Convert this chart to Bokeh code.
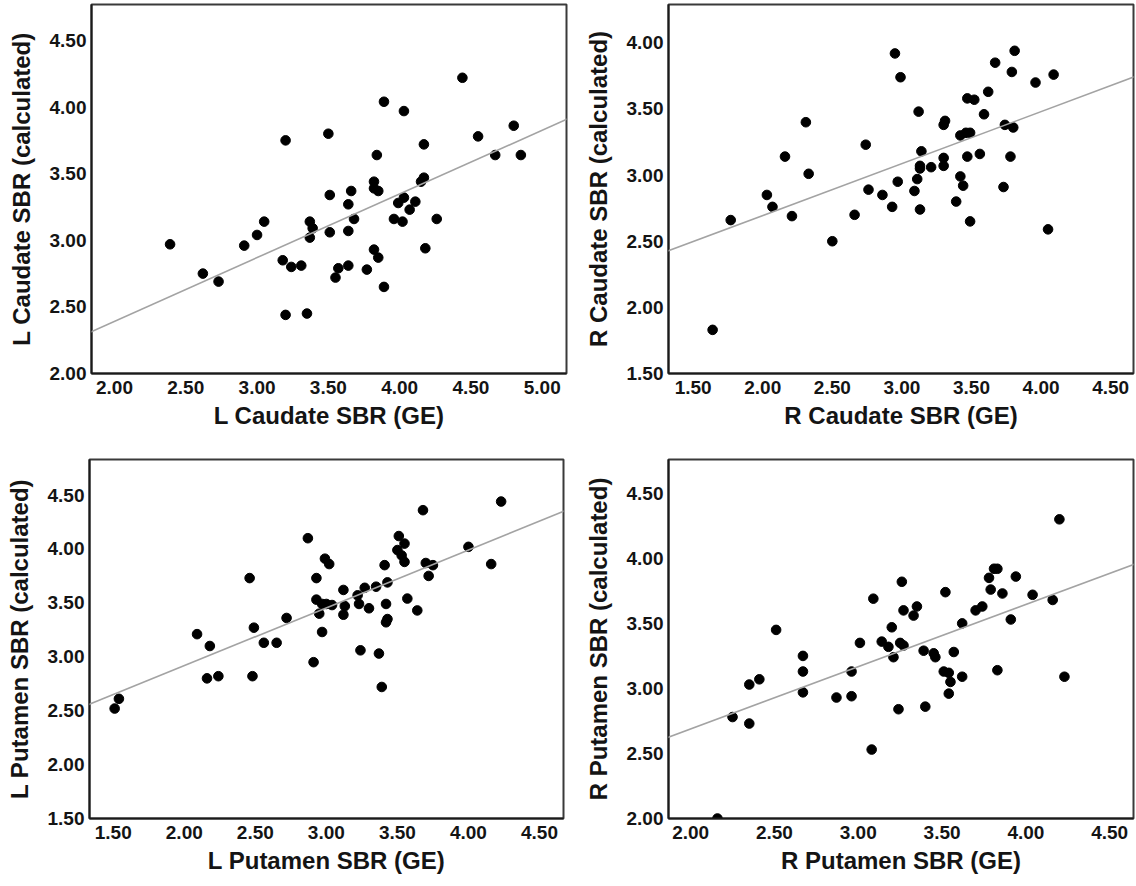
from bokeh.plotting import figure
from bokeh.layouts import column, row
from bokeh.models import Slope, FixedTicker, NumeralTickFormatter, Range1d
from bokeh.embed import file_html
from bokeh.resources import INLINE

# ---- data: L Caudate ----
lc_ge = [2.39, 2.62, 2.73, 2.91, 3.00, 3.05, 3.20, 3.18, 3.24, 3.31, 3.20, 3.35, 3.50, 3.37, 3.39,
         3.37, 3.51, 3.51, 3.64, 3.66, 3.68, 3.64, 3.57, 3.55, 3.64, 3.77, 3.82, 3.85, 3.89, 3.82,
         3.82, 3.85, 3.84, 3.89, 4.03, 3.96, 4.02, 3.99, 4.03, 4.07, 4.11, 4.15, 4.17, 4.17, 4.18,
         4.26, 4.44, 4.55, 4.67, 4.80, 4.85]
lc_calc = [2.97, 2.75, 2.69, 2.96, 3.04, 3.14, 3.75, 2.85, 2.80, 2.81, 2.44, 2.45, 3.80, 3.14, 3.09,
           3.02, 3.34, 3.06, 3.27, 3.37, 3.16, 3.07, 2.79, 2.72, 2.81, 2.78, 2.93, 2.87, 2.65, 3.44,
           3.39, 3.37, 3.64, 4.04, 3.97, 3.16, 3.14, 3.28, 3.32, 3.23, 3.29, 3.44, 3.47, 3.72, 2.94,
           3.16, 4.22, 3.78, 3.64, 3.86, 3.64]

# ---- data: R Caudate ----
rc_ge = [1.64, 1.77, 2.03, 2.07, 2.16, 2.21, 2.31, 2.33, 2.50, 2.66, 2.74, 2.76, 2.86, 2.93, 2.97,
         2.95, 2.99, 3.09, 3.13, 3.11, 3.13, 3.13, 3.14, 3.12, 3.21, 3.30, 3.30, 3.30, 3.31, 3.39,
         3.42, 3.44, 3.42, 3.46, 3.49, 3.47, 3.49, 3.47, 3.52, 3.56, 3.59, 3.62, 3.67, 3.73, 3.74,
         3.80, 3.78, 3.79, 3.81, 3.96, 4.09, 4.05]
rc_calc = [1.83, 2.66, 2.85, 2.76, 3.14, 2.69, 3.40, 3.01, 2.50, 2.70, 3.23, 2.89, 2.85, 2.76, 2.95,
           3.92, 3.74, 2.88, 2.74, 2.97, 3.07, 3.05, 3.18, 3.48, 3.06, 3.07, 3.13, 3.38, 3.41, 2.80,
           2.99, 2.92, 3.30, 3.32, 3.32, 3.14, 2.65, 3.58, 3.57, 3.16, 3.46, 3.63, 3.85, 2.91, 3.38,
           3.36, 3.14, 3.78, 3.94, 3.70, 3.76, 2.59]

# ---- data: L Putamen ----
lp_ge = [1.51, 1.54, 2.09, 2.18, 2.16, 2.24, 2.46, 2.49, 2.48, 2.56, 2.65, 2.72, 2.87, 2.91, 2.93,
         2.93, 2.95, 2.97, 2.97, 2.99, 3.02, 3.00, 3.04, 3.12, 3.13, 3.12, 3.22, 3.23, 3.27, 3.30,
         3.24, 3.35, 3.41, 3.43, 3.42, 3.42, 3.43, 3.37, 3.39, 3.51, 3.55, 3.50, 3.53, 3.55, 3.57,
         3.64, 3.68, 3.70, 3.72, 3.75, 4.00, 4.16, 4.23]
lp_calc = [2.52, 2.61, 3.21, 3.10, 2.80, 2.82, 3.73, 3.27, 2.82, 3.13, 3.13, 3.36, 4.10, 2.95, 3.73,
           3.53, 3.40, 3.23, 3.49, 3.91, 3.86, 3.49, 3.48, 3.62, 3.47, 3.39, 3.57, 3.49, 3.64, 3.45,
           3.06, 3.65, 3.85, 3.69, 3.49, 3.32, 3.35, 3.03, 2.72, 4.12, 4.05, 3.99, 3.94, 3.88, 3.54,
           3.43, 4.36, 3.87, 3.75, 3.85, 4.02, 3.86, 4.44]

# ---- data: R Putamen ----
rp_ge = [2.16, 2.25, 2.35, 2.35, 2.41, 2.51, 2.67, 2.67, 2.67, 2.87, 2.96, 2.96, 3.01, 3.09, 3.08,
         3.14, 3.20, 3.18, 3.21, 3.24, 3.25, 3.27, 3.26, 3.27, 3.33, 3.35, 3.39, 3.40, 3.45, 3.46,
         3.52, 3.51, 3.54, 3.55, 3.54, 3.57, 3.62, 3.62, 3.70, 3.74, 3.78, 3.79, 3.81, 3.83, 3.86,
         3.83, 3.91, 3.94, 4.04, 4.16, 4.20, 4.23]
rp_calc = [2.00, 2.78, 2.73, 3.03, 3.07, 3.45, 3.25, 3.13, 2.97, 2.93, 3.13, 2.94, 3.35, 3.69, 2.53,
           3.36, 3.47, 3.32, 3.24, 2.84, 3.35, 3.33, 3.82, 3.60, 3.56, 3.63, 3.29, 2.86, 3.27, 3.24,
           3.74, 3.13, 3.12, 3.05, 2.96, 3.28, 3.09, 3.50, 3.60, 3.63, 3.85, 3.76, 3.92, 3.92, 3.73,
           3.14, 3.53, 3.86, 3.72, 3.68, 4.30, 3.09]

# fit lines (as drawn in the original): slope, intercept  [LC, RC, LP, RP]
fit_slope = [0.478, 0.393, 0.536, 0.478]
fit_intercept = [1.436, 1.908, 1.846, 1.733]

# tick values
lc_xticks = [2.0, 2.5, 3.0, 3.5, 4.0, 4.5, 5.0]
lc_yticks = [2.0, 2.5, 3.0, 3.5, 4.0, 4.5]
rc_xticks = [1.5, 2.0, 2.5, 3.0, 3.5, 4.0, 4.5]
rc_yticks = [1.5, 2.0, 2.5, 3.0, 3.5, 4.0]
lp_xticks = [1.5, 2.0, 2.5, 3.0, 3.5, 4.0, 4.5]
lp_yticks = [1.5, 2.0, 2.5, 3.0, 3.5, 4.0, 4.5]
rp_xticks = [2.0, 2.5, 3.0, 3.5, 4.0, 4.5]
rp_yticks = [2.0, 2.5, 3.0, 3.5, 4.0, 4.5]

FONT = "Liberation Sans"
TXT = "#141414"


def make(xv, yv, k, xr, yr, xt, yt, xlabel, ylabel, width, height, bl, br, bt, bb):
    p = figure(width=width, height=height, output_backend="svg", toolbar_location=None,
               x_range=Range1d(*xr), y_range=Range1d(*yr),
               min_border_left=bl, min_border_right=br, min_border_top=bt, min_border_bottom=bb)
    p.background_fill_color = "white"
    p.border_fill_color = "white"
    p.outline_line_color = "#3a3a3a"
    p.outline_line_width = 2
    p.xgrid.visible = False
    p.ygrid.visible = False
    p.add_layout(Slope(gradient=fit_slope[k], y_intercept=fit_intercept[k],
                       line_color="#a3a3a3", line_width=1.6))
    p.circle(xv, yv, radius=4.8, radius_units="screen", fill_color="black", line_color="black")
    p.xaxis.ticker = FixedTicker(ticks=xt)
    p.yaxis.ticker = FixedTicker(ticks=yt)
    for ax in (p.xaxis, p.yaxis):
        ax.formatter = NumeralTickFormatter(format="0.00")
        ax.major_tick_line_color = None
        ax.minor_tick_line_color = None
        ax.major_tick_in = 0
        ax.major_tick_out = 0
        ax.minor_tick_out = 0
        ax.minor_tick_in = 0
        ax.axis_line_color = "#1a1a1a"
        ax.axis_line_width = 2
        ax.major_label_text_font = FONT
        ax.major_label_text_font_style = "bold"
        ax.major_label_text_font_size = "19px"
        ax.major_label_text_color = TXT
        ax.axis_label_text_font = FONT
        ax.axis_label_text_font_style = "bold"
        ax.axis_label_text_font_size = "24px"
        ax.axis_label_text_color = TXT
    p.xaxis.axis_label = xlabel
    p.yaxis.axis_label = ylabel
    p.xaxis.major_label_standoff = 7
    p.xaxis.axis_label_standoff = 5
    p.yaxis.major_label_standoff = 5
    p.yaxis.axis_label_standoff = 12
    return p


p1 = make(lc_ge, lc_calc, 0, (1.839, 5.17), (2.0, 4.77), lc_xticks, lc_yticks,
          "L Caudate SBR (GE)", "L Caudate SBR (calculated)", 581, 448, 91, 15, 4, 75)
p2 = make(rc_ge, rc_calc, 1, (1.323, 4.664), (1.5, 4.29), rc_xticks, rc_yticks,
          "R Caudate SBR (GE)", "R Caudate SBR (calculated)", 554, 448, 83, 2, 4, 72)
p3 = make(lp_ge, lp_calc, 2, (1.333, 4.669), (1.5, 4.83), lp_xticks, lp_yticks,
          "L Putamen SBR (GE)", "L Putamen SBR (calculated)", 581, 437, 89, 18, 10, 67)
p4 = make(rp_ge, rp_calc, 3, (1.868, 4.642), (2.0, 4.76), rp_xticks, rp_yticks,
          "R Putamen SBR (GE)", "R Putamen SBR (calculated)", 554, 437, 83, 2, 11, 67)

layout = column(row(p1, p2), row(p3, p4))
open("out.html", "w").write(file_html(layout, INLINE))
